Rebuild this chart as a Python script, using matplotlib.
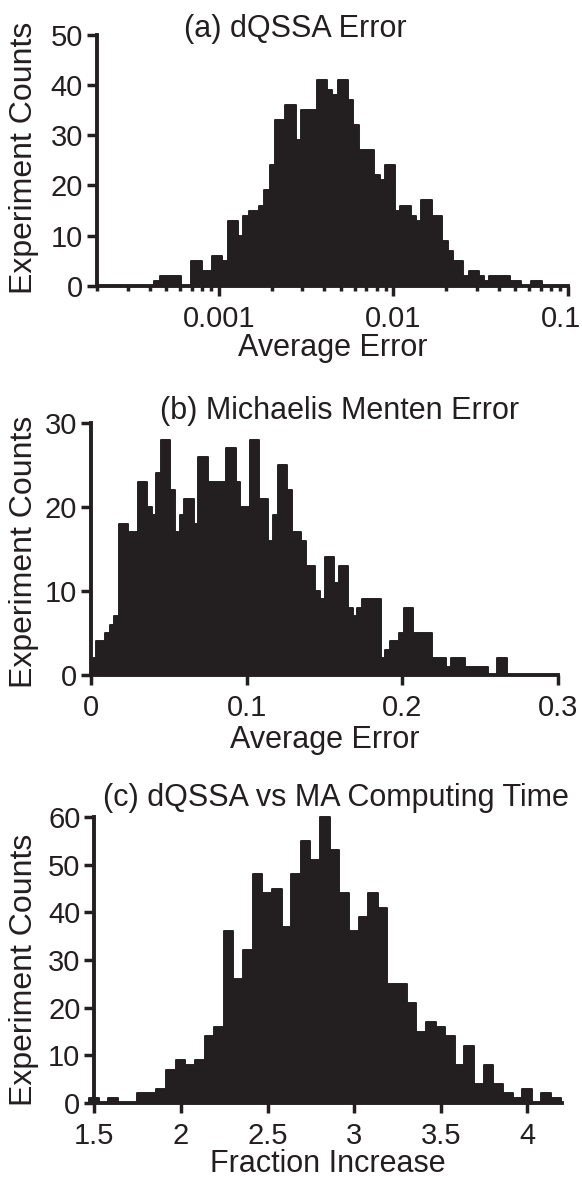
import numpy as np
import matplotlib
matplotlib.use("Agg")
import matplotlib.pyplot as plt
import matplotlib.transforms as mtransforms
from matplotlib.ticker import LogLocator, NullFormatter, MultipleLocator

W, H = 582, 1180
INK = "#231f20"
FS_TICK = 21
FS_TITLE = 22
FS_XLAB = 22
FS_YLAB = 23

# (a) dQSSA error: log-spaced bins, 0.03 decade wide, first edge at 10**-3.37
A_LOG_START = -3.37
A_LOG_STEP = 0.03
A_COUNTS = [1, 2, 2, 2, 2, 0, 0, 5, 5, 3,
            3, 6, 6, 5, 13, 13, 10, 14, 15, 15,
            16, 19, 24, 33, 33, 36, 36, 29, 35, 35,
            35, 41, 41, 39, 38, 41, 41, 37, 32, 27,
            27, 27, 22, 21, 24, 24, 15, 16, 16, 14,
            13, 17, 17, 14, 14, 9, 7, 5, 5, 2,
            3, 3, 2, 1, 2, 2, 2, 2, 1, 1,
            0, 0, 1, 1, 0, 0, 0, 0, 0]
A_XTICKS = [0.001, 0.01, 0.1]
A_XTICKLABELS = ["0.001", "0.01", "0.1"]

# (b) Michaelis Menten error: bins of 0.003 from 0 to 0.3
B_START = 0.0
B_STEP = 0.003
B_COUNTS = [2, 4, 4, 5, 6, 7, 18, 18, 17, 17,
            23, 23, 20, 19, 24, 28, 28, 22, 17, 19,
            21, 21, 18, 26, 26, 23, 23, 23, 23, 27,
            27, 23, 20, 20, 28, 28, 21, 21, 16, 19,
            25, 25, 22, 17, 17, 16, 13, 13, 10, 9,
            14, 14, 11, 13, 13, 8, 7, 8, 9, 9,
            9, 9, 2, 3, 4, 4, 5, 8, 8, 5,
            5, 5, 5, 2, 2, 2, 1, 2, 2, 2,
            1, 1, 1, 1, 1, 0, 0, 2, 2, 0,
            0, 0, 0, 0, 0, 0, 0, 0, 0, 0]
B_XTICKS = [0, 0.1, 0.2, 0.3]
B_XTICKLABELS = ["0", "0.1", "0.2", "0.3"]

# (c) computing time: bins of 1/18 starting at 1.47
C_START = 1.47
C_STEP = 1 / 18
C_COUNTS = [1, 0, 1, 0, 0, 2, 2, 3, 7, 9,
            8, 9, 14, 16, 36, 26, 32, 48, 44, 45,
            37, 48, 55, 51, 60, 53, 44, 36, 39, 44,
            41, 25, 25, 21, 15, 17, 16, 14, 8, 12,
            4, 8, 4, 2, 1, 3, 0, 2, 1]
C_XTICKS = [1.5, 2, 2.5, 3, 3.5, 4]
C_XTICKLABELS = ["1.5", "2", "2.5", "3", "3.5", "4"]

TITLES = ["(a) dQSSA Error", "(b) Michaelis Menten Error",
          "(c) dQSSA vs MA Computing Time"]
XLABELS = ["Average Error", "Average Error", "Fraction Increase"]
YLABEL = "Experiment Counts"


def rect(left, right, top, bottom):
    return [left / W, 1 - bottom / H, (right - left) / W, (bottom - top) / H]


def style(ax, ymax):
    for sp in ("top", "right"):
        ax.spines[sp].set_visible(False)
    for sp in ("left", "bottom"):
        ax.spines[sp].set_linewidth(2.8)
        ax.spines[sp].set_color(INK)
    ax.set_ylim(0, ymax)
    ax.yaxis.set_major_locator(MultipleLocator(10))
    ax.tick_params(which="major", direction="out", length=7, width=2.5,
                   color=INK, labelcolor=INK, labelsize=FS_TICK)
    ax.tick_params(axis="x", which="major", pad=7)
    ax.tick_params(axis="y", which="major", pad=3)


def draw(ax, edges, counts):
    edges = np.asarray(edges)
    ax.bar(edges[:-1], counts, width=np.diff(edges), align="edge",
           color=INK, edgecolor=INK, linewidth=1.4, joinstyle="round",
           clip_on=False, zorder=2)


def labels(ax, box, title, title_xy, xlabel, xlabel_y, ylabel_y):
    left, right, top, bottom = box
    fig.text(title_xy[0] / W, 1 - title_xy[1] / H, title, fontsize=FS_TITLE,
             color=INK, ha="center", va="center")
    ax.set_xlabel(xlabel, fontsize=FS_XLAB, color=INK)
    ax.xaxis.label.set_va("center")
    ax.xaxis.set_label_coords(0.5, (bottom - xlabel_y) / (bottom - top))
    ax.set_ylabel(YLABEL, fontsize=FS_YLAB, color=INK)
    ax.yaxis.label.set_va("center")
    ax.yaxis.set_label_coords((24 - left) / (right - left),
                              (bottom - ylabel_y) / (bottom - top))


plt.rcParams["font.family"] = ["Liberation Sans", "DejaVu Sans"]
fig = plt.figure(figsize=(W / 100, H / 100), dpi=100)

# --- (a) ---
box_a = (97, 568, 34.5, 286)
ax_a = fig.add_axes(rect(*box_a))
a_edges = 10 ** (A_LOG_START + A_LOG_STEP * np.arange(len(A_COUNTS) + 1))
ax_a.set_xscale("log")
draw(ax_a, a_edges, A_COUNTS)
ax_a.set_xlim(0.0002, 0.1)
style(ax_a, 50)
ax_a.xaxis.set_minor_locator(LogLocator(base=10, subs=np.arange(2, 10)))
ax_a.xaxis.set_minor_formatter(NullFormatter())
ax_a.tick_params(axis="x", which="minor", direction="out", length=3.5,
                 width=2.5, color=INK)
ax_a.set_xticks(A_XTICKS, A_XTICKLABELS)
# last label sits at the figure edge: nudge it left a little
last = ax_a.get_xticklabels()[-1]
last.set_transform(last.get_transform() + mtransforms.ScaledTranslation(
    -7 / 100, 0, fig.dpi_scale_trans))
labels(ax_a, box_a, TITLES[0], (295, 29), XLABELS[0], 348, 158)

# --- (b) ---
box_b = (91, 558, 423, 675)
ax_b = fig.add_axes(rect(*box_b))
b_edges = B_START + B_STEP * np.arange(len(B_COUNTS) + 1)
draw(ax_b, b_edges, B_COUNTS)
ax_b.set_xlim(0, 0.3)
style(ax_b, 30)
ax_b.set_xticks(B_XTICKS, B_XTICKLABELS)
labels(ax_b, box_b, TITLES[1], (340, 411), XLABELS[1], 740, 552)

# --- (c) ---
box_c = (94.3, 562, 817, 1103)
ax_c = fig.add_axes(rect(*box_c))
c_edges = C_START + C_STEP * np.arange(len(C_COUNTS) + 1)
draw(ax_c, c_edges, C_COUNTS)
ax_c.set_xlim(1.5, 4.2)
style(ax_c, 60)
ax_c.set_xticks(C_XTICKS, C_XTICKLABELS)
labels(ax_c, box_c, TITLES[2], (336, 798), XLABELS[2], 1164, 970)

fig.savefig("out.png", dpi=100, facecolor="white")
